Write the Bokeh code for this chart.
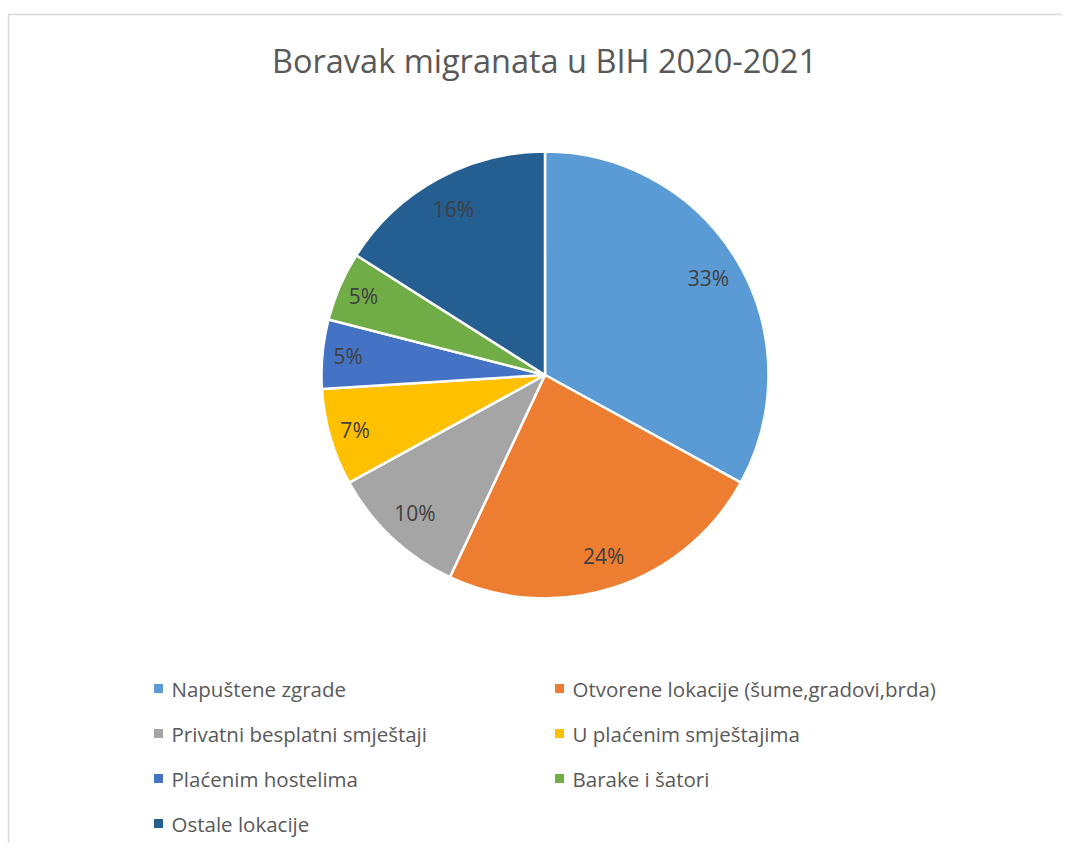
import math
from bokeh.plotting import figure
from bokeh.models import Range1d, ColumnDataSource
from bokeh.core.properties import value
from bokeh.embed import file_html
from bokeh.resources import INLINE

title = "Boravak migranata u BIH 2020-2021"
categories = [
    "Napuštene zgrade",
    "Otvorene lokacije (šume,gradovi,brda)",
    "Privatni besplatni smještaji",
    "U plaćenim smještajima",
    "Plaćenim hostelima",
    "Barake i šatori",
    "Ostale lokacije",
]
shares = [33, 24, 10, 7, 5, 5, 16]
colors = ["#5B9BD5", "#ED7D31", "#A5A5A5", "#FFC000", "#4472C4", "#70AD47", "#255E91"]

W, H = 1062, 843
FONT = "Open Sans"

def px(x):  # page x -> data x
    return x

def py(y):  # page y -> data y
    return H - y

p = figure(width=W, height=H, x_range=Range1d(0, W), y_range=Range1d(0, H),
           output_backend="svg", toolbar_location=None, min_border=0)
p.axis.visible = False
p.grid.visible = False
p.outline_line_color = None
p.background_fill_color = "white"
p.border_fill_color = "white"

# chart area border (left and top visible)
p.quad(left=[px(8)], right=[px(1200)], top=[py(14)], bottom=[py(1000)],
       fill_color=None, line_color="#D9D9D9", line_width=1.5)

# pie
cx, cy, R = px(544.5), py(374.5), 223.5
total = float(sum(shares))
starts, ends, lx, ly, labels = [], [], [], [], []
acc = 0.0
for s in shares:
    a0 = math.pi / 2 - 2 * math.pi * acc / total
    a1 = math.pi / 2 - 2 * math.pi * (acc + s) / total
    starts.append(a0)
    ends.append(a1)
    mid = (a0 + a1) / 2
    rr = R * (0.85 if s >= 10 else 0.885)
    lx.append(cx + rr * math.cos(mid))
    ly.append(cy + rr * math.sin(mid))
    labels.append(f"{s}%")
    acc += s

src = ColumnDataSource(dict(start=starts, end=ends, color=colors))
p.wedge(x=cx, y=cy, radius=R, start_angle="start", end_angle="end",
        direction="clock", fill_color="color", line_color="white",
        line_width=2.5, source=src)

p.text(x=lx, y=ly, text=labels, text_align="center", text_baseline="middle",
       text_font=value(FONT), text_font_size="21px", text_color="#404040")

# title
p.text(x=[px(544)], y=[py(60)], text=[title], text_align="center",
       text_baseline="middle", text_font=value(FONT), text_font_size="32.5px",
       text_color="#595959")

# legend
mx, my, tx = [], [], []
for i, c in enumerate(categories):
    col, row = i % 2, i // 2
    mx.append(px(158 if col == 0 else 559))
    my.append(py(688 + row * 45))
    tx.append(px(171 if col == 0 else 572))
p.rect(x=mx, y=my, width=9, height=9, fill_color=colors, line_color=None)
p.text(x=tx, y=my, text=categories, text_align="left", text_baseline="middle",
       text_font=value(FONT), text_font_size="20.5px", text_color="#595959")

open("out.html", "w").write(file_html(p, INLINE))
